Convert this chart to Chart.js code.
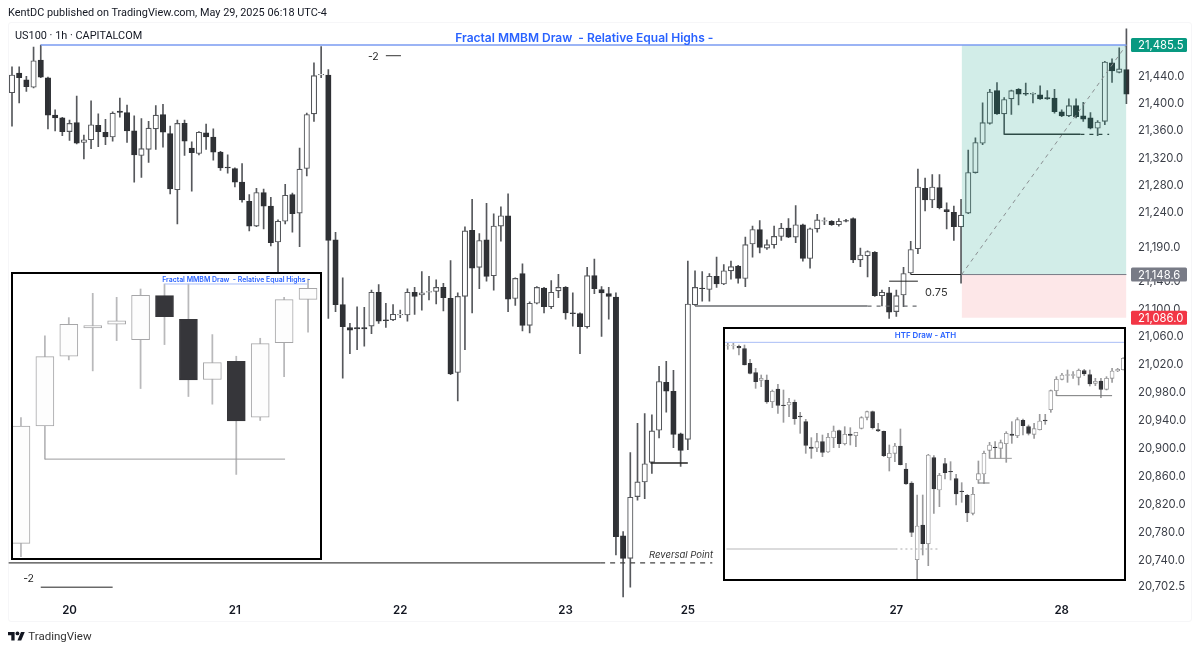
<!DOCTYPE html>
<html><head><meta charset="utf-8">
<style>
html,body{margin:0;padding:0;background:#fff;width:1200px;height:651px;overflow:hidden;font-family:Inter,"Liberation Sans",sans-serif;color:#131722}
#panel{position:absolute;left:8px;top:22px;width:1184px;height:600px;box-sizing:border-box;border:1px solid #f6f6f8;border-radius:3px}
#main{position:absolute;left:0;top:0}
.inset{position:absolute;background:#fff}
.frame{position:absolute;box-sizing:border-box;border:2.5px solid #000;pointer-events:none}
.txt{position:absolute;white-space:pre;line-height:1;font-family:Roboto,Inter,sans-serif}
</style></head><body>
<div id="panel"></div>
<canvas id="main" width="1200" height="651" style="width:1200px;height:651px"></canvas>
<canvas id="c1" class="inset" style="left:8.8px;top:274px;width:311.2px;height:283.3px"></canvas>
<div class="frame" style="left:11.3px;top:271.7px;width:310.7px;height:288.3px"></div>
<canvas id="c2" class="inset" style="left:724.5px;top:329px;width:400.5px;height:250px"></canvas>
<div class="frame" style="left:723.3px;top:326.7px;width:403px;height:254.3px"></div>
<div class="txt" style="left:8px;top:7.5px;font-size:10.9px">KentDC published on TradingView.com, May 29, 2025 06:18 UTC-4</div>
<div class="txt" style="left:15px;top:30.5px;font-size:10.9px">US100 · 1h · CAPITALCOM</div>
<svg style="position:absolute;left:8px;top:631px" width="17" height="10" viewBox="0 2 36 21"><path d="M14 22H7V11H0V4h14v18zM28 22h-8l7.5-18h8L28 22z" fill="#131722"/><circle cx="20" cy="7" r="4" fill="#131722"/></svg>
<div class="txt" style="left:28.3px;top:630.5px;font-size:11.5px;color:#333">TradingView</div>
<script src="https://cdn.jsdelivr.net/npm/chart.js@4/dist/chart.umd.js"></script>
<script>
const opens=[21414,21443,21433,21422,21462,21436,21381,21377,21357,21370,
21341,21345,21366,21356,21349,21387,21385,21358,21322,21331,
21361,21382,21354,21272,21369,21333,21325,21355,21349,21327,
21305,21303,21283,21255,21219,21268,21248,21196,21226,21265,
21238,21303,21383,21440,21440,21199,21105,21072,21072,21072,
21074,21123,21083,21083,21090,21090,21123,21119,21123,21124,
21130,21114,21007,21117,21213,21159,21199,21147,21219,21234,
21114,21150,21075,21107,21129,21102,21125,21130,21093,21092,
21073,21147,21127,21121,21116,20773,20741,20829,20850,20878,
20924,20993,20980,20919,20911,21105,21129,21127,21146,21135,
21154,21161,21143,21193,21214,21187,21192,21204,21216,21203,
21221,21172,21215,21226,21226,21221,21227,21230,21170,21176,
21181,21118,21122,21095,21119,21151,21186,21274,21257,21275,
21243,21239,21218,21238,21297,21340,21369,21417,21383,21405,
21419,21413,21412,21411,21407,21406,21386,21380,21395,21380,
21377,21362,21372,21458,21444,21448];
const highs=[21452,21452,21438,21481,21484,21437,21389,21378,21374,21409,
21352,21402,21383,21375,21386,21406,21396,21380,21376,21372,
21395,21397,21365,21374,21374,21342,21357,21368,21361,21328,
21323,21304,21310,21265,21274,21273,21261,21228,21280,21267,
21333,21384,21458,21482,21448,21210,21144,21078,21102,21101,
21126,21134,21107,21105,21097,21128,21130,21153,21146,21141,
21136,21169,21122,21218,21258,21208,21252,21237,21247,21266,
21144,21164,21109,21131,21130,21140,21149,21131,21122,21093,
21159,21171,21131,21130,21122,20779,20892,20934,20948,20946,
21016,21023,21010,20920,21168,21154,21153,21150,21174,21163,
21168,21162,21203,21219,21227,21199,21219,21223,21230,21249,
21222,21216,21236,21231,21227,21230,21229,21231,21187,21183,
21182,21126,21130,21126,21159,21197,21302,21289,21294,21294,
21253,21248,21258,21330,21348,21399,21419,21429,21407,21418,
21420,21428,21414,21424,21417,21419,21389,21405,21405,21400,
21385,21373,21460,21464,21480,21508];
const lows=[21365,21399,21416,21421,21436,21361,21358,21351,21344,21339,
21317,21332,21335,21338,21343,21378,21341,21283,21290,21312,
21331,21334,21266,21222,21322,21270,21323,21331,21315,21300,
21296,21276,21254,21212,21218,21215,21190,21148,21222,21210,
21189,21292,21372,21436,21085,21095,20999,21034,21040,21045,
21063,21078,21072,21082,21086,21081,21091,21097,21112,21106,
21096,21004,20966,21040,21093,21128,21139,21126,21197,21095,
21104,21067,21064,21106,21093,21099,21115,21084,21074,21034,
21071,21121,21059,21084,20746,20686,20700,20824,20826,20862,
20913,20950,20899,20872,20896,21104,21110,21110,21130,21134,
21142,21136,21131,21174,21180,21185,21187,21198,21202,21195,
21168,21158,21210,21221,21220,21219,21225,21166,21160,21145,
21117,21103,21085,21088,21102,21149,21179,21241,21246,21244,
21215,21198,21136,21237,21296,21338,21368,21382,21353,21382,
21396,21410,21399,21404,21404,21384,21379,21379,21377,21372,
21361,21351,21367,21429,21443,21398];
const closes=[21440,21436,21423,21461,21437,21381,21377,21357,21369,21340,
21345,21367,21357,21349,21384,21385,21358,21323,21332,21362,
21381,21356,21273,21369,21343,21326,21356,21349,21327,21304,
21304,21283,21257,21219,21268,21248,21195,21226,21264,21237,
21302,21382,21439,21441,21198,21105,21073,21068,21070,21070,
21123,21081,21082,21091,21091,21123,21117,21122,21124,21130,
21115,21005,21117,21212,21158,21198,21146,21219,21234,21113,
21143,21075,21107,21130,21102,21123,21130,21093,21092,21073,
21147,21128,21122,21117,20772,20741,20828,20850,20876,20923,
20994,20980,20918,20895,21106,21130,21128,21146,21135,21154,
21160,21143,21192,21214,21188,21192,21204,21216,21203,21221,
21172,21215,21228,21227,21221,21226,21226,21170,21177,21182,
21118,21123,21094,21118,21150,21185,21276,21257,21276,21246,
21240,21218,21235,21297,21341,21370,21415,21383,21404,21417,
21412,21412,21413,21405,21405,21386,21380,21395,21379,21375,
21362,21371,21459,21446,21449,21412];
const dayTickIndex=[8,31,54,77,94,123,146];
const dayTickLabels=['20','21','22','23','25','27','28'];
const priceTicks=[21440,21400,21360,21320,21280,21240,21190,21140,21100,21060,21020,20980,20940,20900,20860,20820,20780,20740,20702.5];
const priceTagValues=[21484.2,21148.6,21086];
const priceTagTexts=['21,485.5','21,148.6','21,086.0'];

const ins1Opens=[20679,21032,21241,21326,21337,21291,21423,21352,21171,21226,21058,21282,21412];
const ins1Highs=[21057,21302,21357,21430,21418,21443,21458,21458,21306,21241,21295,21418,21473];
const ins1Lows=[20638,20932,21230,21197,21288,21144,21276,21120,21097,20886,21048,21180,21313];
const ins1Closes=[21031,21240,21337,21333,21347,21424,21360,21170,21222,21047,21279,21411,21445];

const ins2Opens=[20939,20939,20936,20929,20885,20857,20834,20835,20770,20808,20760,20760,20768,20727,20710,20634,20631,20650,20619,20662,20683,20644,20673,20668,20690,20723,20740,20686,20681,20602,20615,20637,20568,20526,20296,20400,20344,20602,20505,20584,20561,20539,20502,20489,20435,20535,20553,20624,20634,20630,20644,20673,20668,20714,20695,20672,20686,20715,20746,20803,20837,20849,20849,20843,20863,20851,20825,20832,20807,20840,20862,20866];
const ins2Highs=[20945,20945,20940,20940,20897,20870,20850,20850,20805,20822,20805,20780,20775,20738,20717,20662,20675,20670,20675,20697,20685,20695,20692,20678,20725,20742,20742,20705,20682,20640,20645,20688,20585,20530,20490,20490,20612,20608,20555,20600,20590,20552,20527,20492,20513,20592,20622,20648,20650,20655,20680,20710,20722,20718,20700,20705,20732,20732,20805,20845,20855,20865,20860,20868,20867,20865,20840,20840,20845,20870,20870,20902];
const ins2Lows=[20927,20928,20910,20880,20853,20810,20815,20765,20752,20735,20708,20725,20702,20675,20615,20600,20620,20605,20618,20632,20632,20640,20640,20635,20688,20715,20688,20680,20605,20562,20590,20580,20522,20365,20238,20310,20278,20435,20455,20538,20535,20460,20468,20410,20430,20525,20525,20600,20600,20600,20588,20645,20662,20670,20670,20660,20685,20702,20738,20788,20835,20828,20840,20820,20848,20817,20818,20782,20805,20828,20860,20865];
const ins2Closes=[20940,20940,20931,20880,20855,20830,20840,20769,20801,20759,20758,20768,20719,20724,20639,20630,20650,20618,20663,20682,20644,20672,20669,20678,20722,20740,20692,20682,20608,20615,20637,20581,20523,20378,20397,20344,20610,20508,20549,20557,20559,20493,20500,20436,20492,20554,20615,20640,20632,20647,20675,20669,20716,20698,20675,20689,20712,20712,20803,20837,20850,20851,20851,20864,20853,20823,20831,20807,20840,20862,20867,20900];

function candleSets(O,H,L,C,st){
  const up=i=>C[i]>=O[i];
  return [
    {type:'bar',order:10,grouped:false,barThickness:st.wick,backgroundColor:st.wickColor,borderWidth:0,
     data:H.map((h,i)=>({x:i,y:[L[i],h]}))},
    {type:'bar',order:9,grouped:false,barThickness:st.body,borderSkipped:false,borderWidth:st.bw,
     backgroundColor:c=>up(c.dataIndex)?st.upFill:st.downFill,
     borderColor:c=>up(c.dataIndex)?st.upBorder:st.downFill,
     data:O.map((o,i)=>({x:i,y:[o,C[i]]}))}
  ];
}
function seg(x0,y0,x1,y1,color,width,dash){
  return {type:'line',order:1,data:[{x:x0,y:y0},{x:x1,y:y1}],borderColor:color,borderWidth:width,
    borderDash:dash||[],pointRadius:0,fill:false,tension:0};
}
function band(x0,x1,top,base,color){
  return {type:'line',order:8,data:[{x:x0,y:top},{x:x1,y:top}],borderWidth:0,borderColor:'rgba(0,0,0,0)',
    backgroundColor:color,pointRadius:0,fill:{value:base}};
}
function textPlugin(notes){
  return {id:'notes',afterDatasetsDraw(ch){
    const c=ch.ctx;c.save();
    notes.forEach(n=>{
      c.font=n.font;c.fillStyle=n.color;c.textAlign=n.align||'left';c.textBaseline='middle';
      c.fillText(n.text,ch.scales.x.getPixelForValue(n.x),ch.scales.y.getPixelForValue(n.y));
    });
    c.restore();
  }};
}

const blue='#2962ff', lvlTop=priceTagValues[0], lvlEntry=priceTagValues[1], lvlStop=priceTagValues[2];
const mainStyle={wick:1,body:5.4,bw:1.1,wickColor:'#56585c',upFill:'#ffffff',upBorder:'#55575b',downFill:'#2f3135'};
const boxL=132.08, boxR=155;
const fontUI='Inter,"Liberation Sans",sans-serif';

const mainNotes=[
 {text:'Fractal MMBM Draw  - Relative Equal Highs -',x:79.6,y:21494,font:'600 12px '+fontUI,color:blue,align:'center'},
 {text:'-2',x:49.5,y:21467,font:'10.5px '+fontUI,color:'#222'},
 {text:'-2',x:1.55,y:20712,font:'10.5px '+fontUI,color:'#222'},
 {text:'Reversal Point',x:88.6,y:20745,font:'italic 9.5px '+fontUI,color:'#333'},
 {text:'0.75',x:127,y:21123,font:'11px '+fontUI,color:'#333'}
];

new Chart(document.getElementById('main'),{
  type:'bar',
  data:{datasets:[
    ...candleSets(opens,highs,lows,closes,mainStyle),
    band(boxL,boxR,lvlTop,lvlEntry,'rgba(8,153,129,0.18)'),
    band(boxL,boxR,lvlEntry,lvlStop,'rgba(242,54,69,0.12)'),
    seg(4,lvlTop,boxR,lvlTop,'#7a9bf2',1.6),
    seg(boxL,lvlEntry,boxR,lvlTop,'#8a8f92',1,[4,4]),
    seg(boxL,lvlEntry,boxR,lvlEntry,'#787b86',1),
    seg(125,lvlEntry,boxL,lvlEntry,'#222',1.1),
    seg(52,21468.4,54.1,21468.4,'#333',1),
    seg(4,20700,14,20700,'#222',1),
    seg(-0.5,20734.5,81.8,20734.5,'#444',1.1),
    seg(81.8,20734.5,97.4,20734.5,'#444',1.1,[5,5]),
    seg(95,21103,119,21103,'#6a6c70',1.4),
    seg(119,21103,126,21103,'#6a6c70',1.2,[4,5]),
    seg(122,21139,126,21139,'#222',1),
    seg(138,21353,148.6,21353,'#2d4a45',1.4),
    seg(148.6,21353,152.6,21353,'#2d4a45',1.3,[4,5]),
    seg(88.8,20877,94,20877,'#222',1.6)
  ]},
  options:{
    responsive:false,animation:false,devicePixelRatio:1,
    layout:{padding:{left:8.4,top:26,right:0,bottom:0}},
    plugins:{legend:{display:false},tooltip:{enabled:false},title:{display:false},filler:{propagate:false}},
    scales:{
      x:{type:'linear',min:-0.5,max:155.5,offset:false,grid:{display:false,drawTicks:false},border:{display:false},
        afterFit:s=>{s.height=51;},
        afterBuildTicks:s=>{s.ticks=dayTickIndex.map(v=>({value:v}));},
        ticks:{autoSkip:false,maxRotation:0,padding:4,color:'#131722',font:{family:fontUI,size:11.5,weight:'600'},
          callback:v=>dayTickLabels[dayTickIndex.indexOf(v)]||''}},
      y:{type:'logarithmic',position:'right',max:21512.2,min:20681.8,grid:{display:false,drawTicks:false},border:{display:false},
        afterFit:s=>{s.width=70;},
        afterBuildTicks:s=>{s.ticks=priceTicks.map(v=>({value:v}));},
        ticks:{autoSkip:false,padding:8,labelOffset:1.3,color:'#3a3e47',font:{family:fontUI,size:11.3},
          callback:v=>v.toLocaleString('en-US',{minimumFractionDigits:1,maximumFractionDigits:1})}}
    }
  },
  plugins:[textPlugin(mainNotes),{id:'priceTags',afterDraw(ch){
    const c=ch.ctx,colors=['#089981','#787b86','#f23645'];c.save();
    priceTagValues.forEach((v,i)=>{
      const y=ch.scales.y.getPixelForValue(v);
      c.fillStyle=colors[i];c.beginPath();c.roundRect(1131,y-7,56,14,1.5);c.fill();
      c.fillStyle='#fff';c.font='11.3px '+fontUI;c.textAlign='left';c.textBaseline='middle';
      c.fillText(priceTagTexts[i],1138,y+1);
    });
    c.restore();
  }}]
});

function insetChart(id,O,H,L,C,yMin,yMax,st,extra,notes){
  const el=document.getElementById(id);
  new Chart(el,{
    type:'bar',
    data:{datasets:[...candleSets(O,H,L,C,st),...extra]},
    options:{responsive:false,animation:false,layout:{padding:0},
      plugins:{legend:{display:false},tooltip:{enabled:false}},
      scales:{
        x:{type:'linear',display:false,offset:false,min:-0.5,max:O.length-0.5},
        y:{type:'linear',display:false,min:yMin,max:yMax}
      }},
    plugins:[textPlugin(notes)]
  });
}
function sizeCanvas(id,w,h){const e=document.getElementById(id);e.width=w;e.height=h;e.style.width=w+'px';e.style.height=h+'px';}
sizeCanvas('c1',311,283);sizeCanvas('c2',401,250);

insetChart('c1',ins1Opens,ins1Highs,ins1Lows,ins1Closes,20638,21488,
  {wick:1.1,body:18,bw:1,wickColor:'#b9b9bb',upFill:'#fdfdfd',upBorder:'#a6a6a8',downFill:'#36363a'},
  [seg(6,21458,12,21458,'#a9bdf6',1),seg(1,20932,11.04,20932,'#9b9b9d',1)],
  [{text:'Fractal MMBM Draw  - Relative Equal Highs -',x:9,y:21471,font:'600 6.9px '+fontUI,color:blue,align:'center'}]);

insetChart('c2',ins2Opens,ins2Highs,ins2Lows,ins2Closes,20238,20988,
  {wick:1,body:4,bw:0.8,wickColor:'#9a9a9c',upFill:'#ffffff',upBorder:'#8c8c8e',downFill:'#333438'},
  [seg(-0.5,20948,71.5,20948,'#a9bdf6',1),
   seg(-0.24,20328,30.1,20328,'#b8b8ba',1.2),seg(30.1,20328,37.9,20328,'#a8a8aa',1,[2,3]),
   seg(59,20788,69,20788,'#77787a',1),seg(47,20600,51,20600,'#9a9a9c',1),seg(45,20526,47,20526,'#77787a',1)],
  [{text:'HTF Draw - ATH',x:35.5,y:20968,font:'600 7.9px '+fontUI,color:blue,align:'center'}]);
</script>
</body></html>
